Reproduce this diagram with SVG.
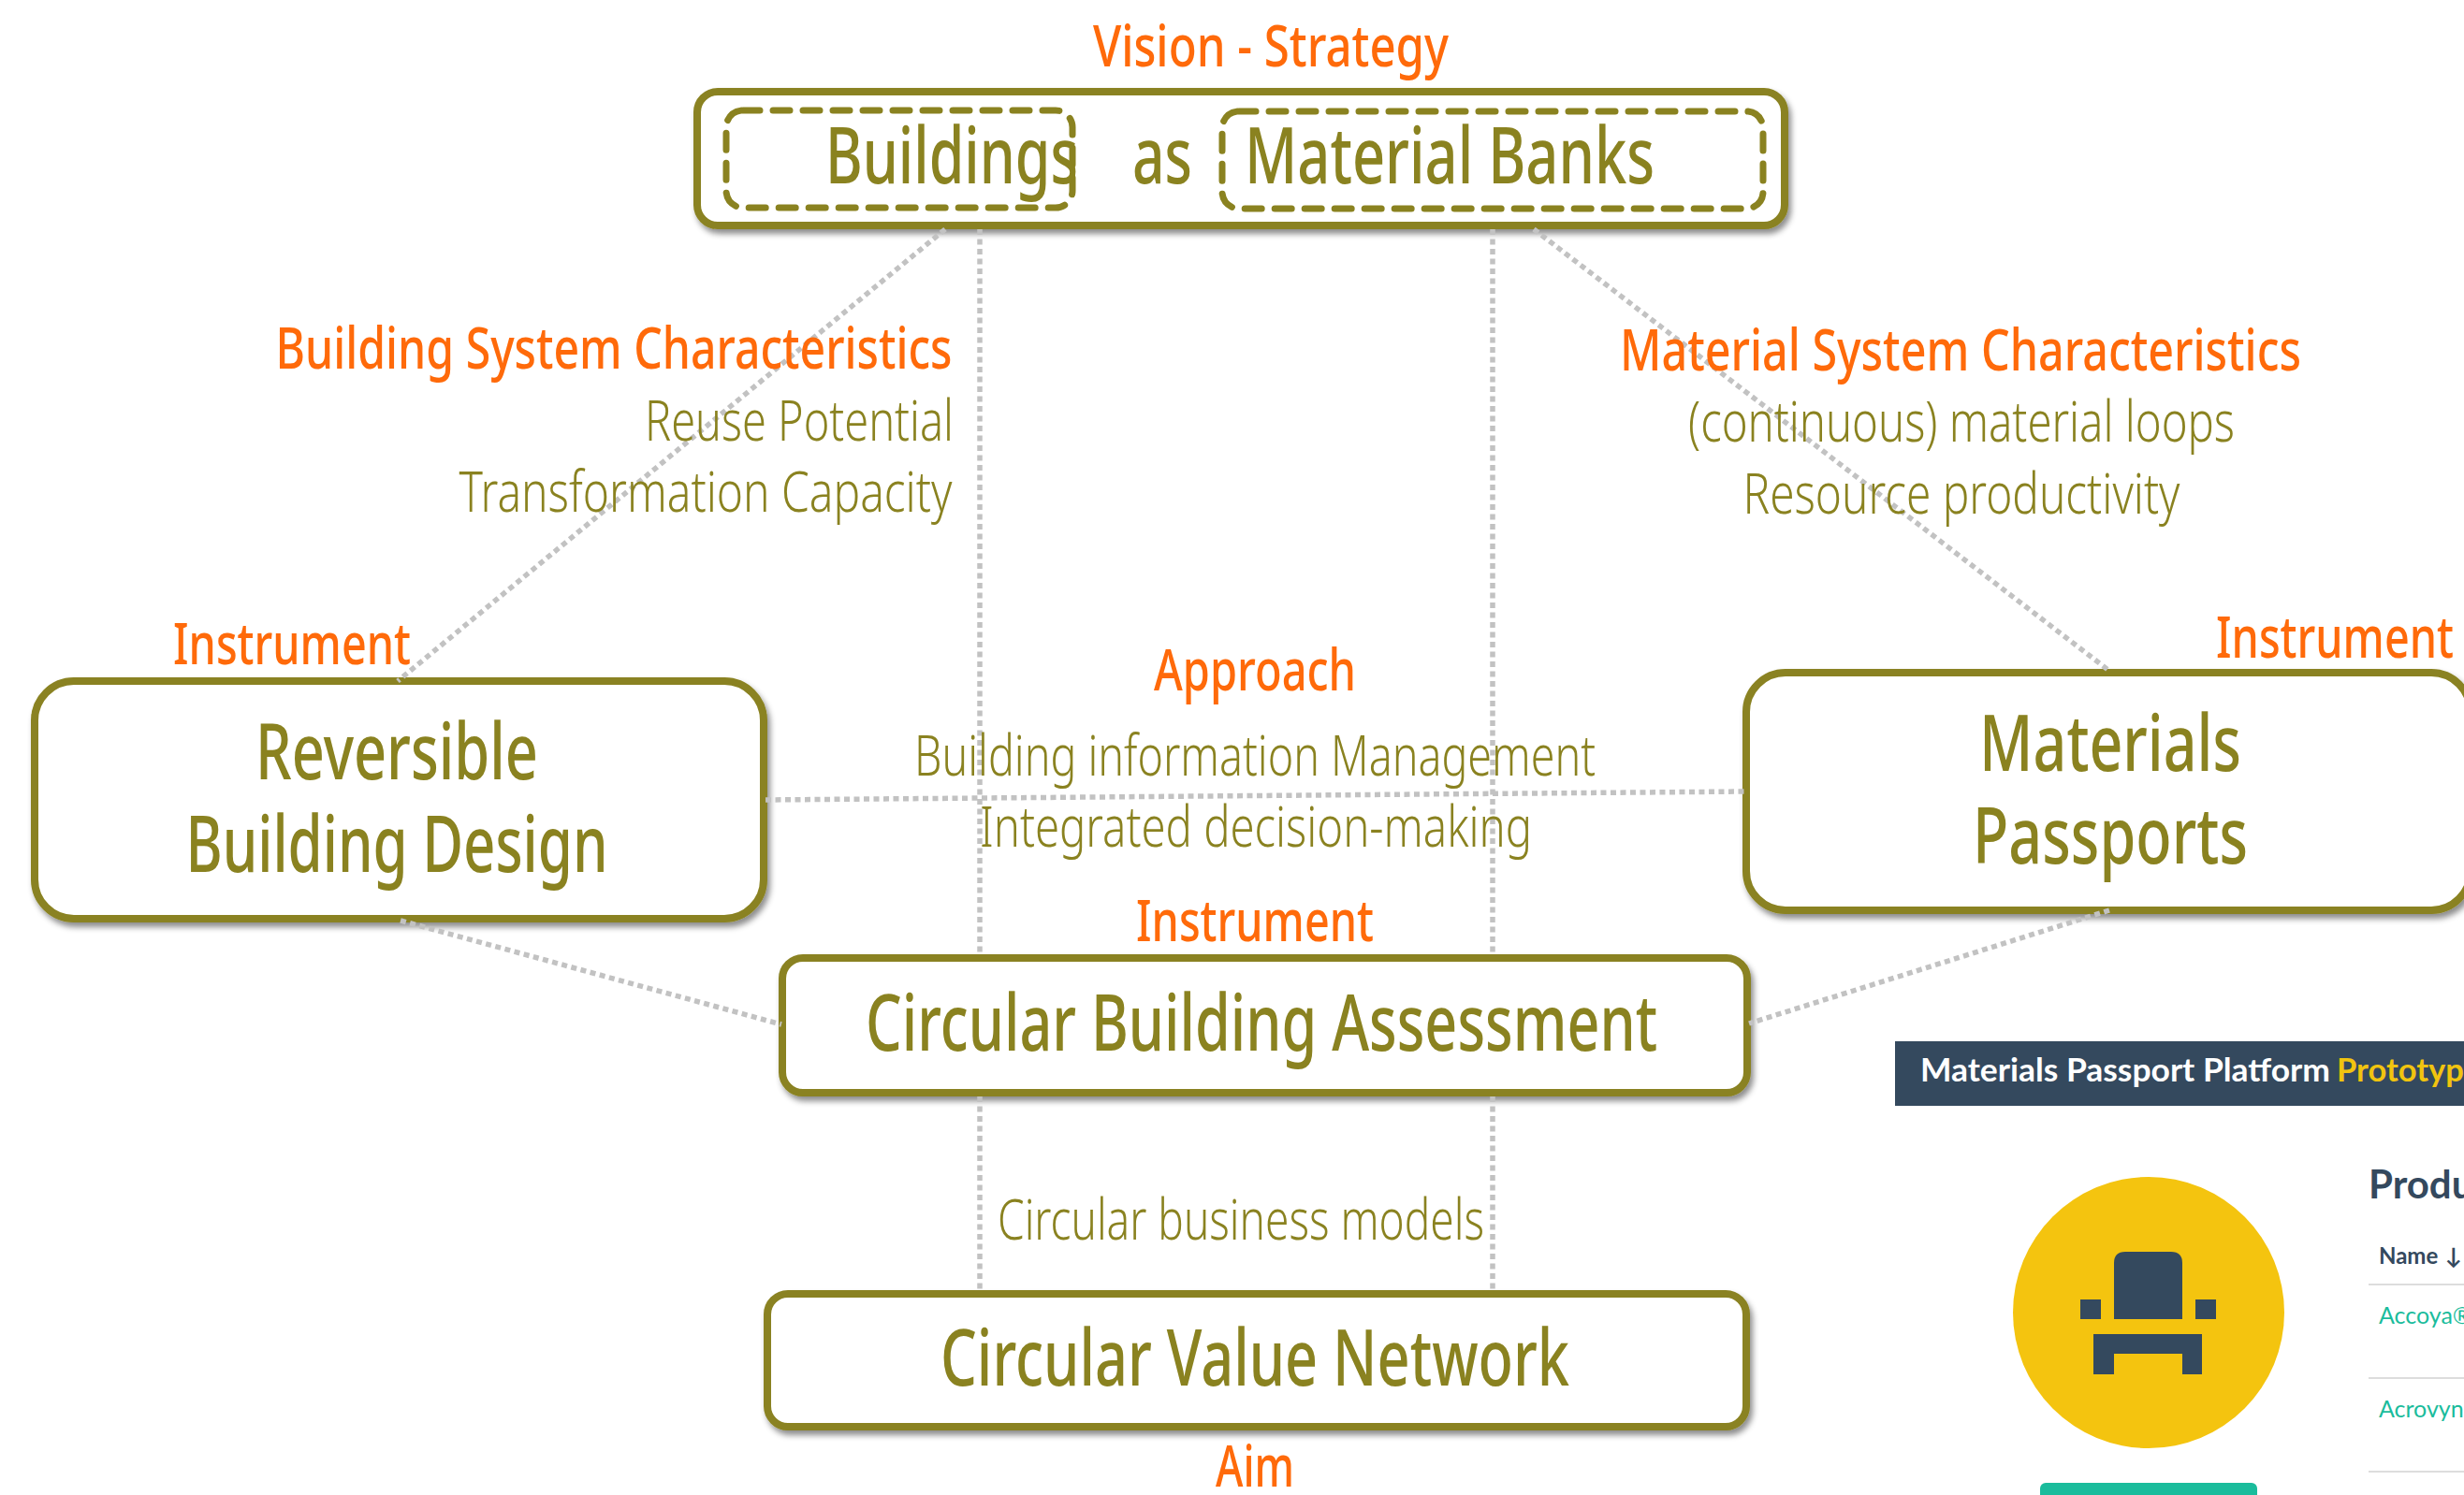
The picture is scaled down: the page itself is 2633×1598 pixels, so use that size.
<svg xmlns="http://www.w3.org/2000/svg" width="2633" height="1598" viewBox="0 0 2633 1598">
<style>
text{font-family:"Noto Sans","Open Sans","Liberation Sans",sans-serif;text-anchor:middle}
.o{fill:#ff6a0a;font-size:62px;font-weight:500}
.n{fill:#8a8220;font-size:84px;font-weight:500}
.s{fill:#8a8220;font-size:60px;font-weight:300}
.box{fill:#fff;stroke:#8a8220;stroke-width:8;filter:url(#sh)}
.d{fill:none;stroke:#8a8220;stroke-width:7;stroke-dasharray:18 14;stroke-linecap:round}
.c{stroke:#c2c2c2;stroke-width:5.5;stroke-dasharray:6 4.5;fill:none}
.l{font-family:Lato,"Liberation Sans",sans-serif;text-anchor:start}
</style>
<defs><filter id="sh" x="-5%" y="-10%" width="110%" height="125%"><feDropShadow dx="3" dy="5" stdDeviation="3" flood-color="#000" flood-opacity=".45"/></filter></defs>
<g id="screenshot">
<rect x="2025" y="1113" width="608" height="69" fill="#34495e"/>
<text class="l" x="2052" y="1156" font-size="35" font-weight="700" fill="#fff" textLength="438" lengthAdjust="spacingAndGlyphs">Materials Passport Platform</text>
<text class="l" x="2497" y="1156" font-size="35" font-weight="700" fill="#f1c40f" textLength="136" lengthAdjust="spacingAndGlyphs">Prototyp</text>
<circle cx="2296" cy="1403" r="145" fill="#f4c40f"/>
<path fill="#34495e" d="M2259 1410V1350q0-12 12-12h49q12 0 12 12v60zM2223 1389h22v21h-22zM2346 1389h22v21h-22zM2237 1426h116v43h-21v-22h-73v22h-22z"/>
<rect x="2180" y="1585" width="232" height="30" rx="6" fill="#1abc9c"/>
<text class="l" x="2531" y="1281" font-size="42" font-weight="700" fill="#34495e">Produ</text>
<text class="l" x="2542" y="1351" font-size="24" font-weight="700" fill="#34495e">Name <tspan dx="2">↓</tspan></text>
<path stroke="#ddd" stroke-width="2" d="M2531 1373H2633M2531 1473H2633M2531 1573H2633"/>
<text class="l" x="2542" y="1415" font-size="25" fill="#1abc9c">Accoya®</text>
<text class="l" x="2542" y="1515" font-size="25" fill="#1abc9c">Acrovyn</text>
</g>
<g id="node-vision">
<rect class="box" x="745" y="98" width="1162" height="143" rx="22"/>
<rect class="d" x="776" y="118" width="370" height="104" rx="18"/>
<rect class="d" x="1306" y="119" width="578" height="104" rx="18"/>
<text class="n" x="1017" y="196" textLength="270" lengthAdjust="spacingAndGlyphs">Buildings</text>
<text class="n" x="1242" y="196" textLength="64" lengthAdjust="spacingAndGlyphs">as</text>
<text class="n" x="1549" y="196" textLength="438" lengthAdjust="spacingAndGlyphs">Material Banks</text>
</g>
<g id="node-rbd">
<rect class="box" x="37" y="728" width="779" height="254" rx="42"/>
<text class="n" x="424" y="833" textLength="302" lengthAdjust="spacingAndGlyphs">Reversible</text>
<text class="n" x="424" y="932" textLength="451" lengthAdjust="spacingAndGlyphs">Building Design</text>
</g>
<g id="node-mp">
<rect class="box" x="1866" y="719" width="774" height="254" rx="42"/>
<text class="n" x="2255" y="824" textLength="280" lengthAdjust="spacingAndGlyphs">Materials</text>
<text class="n" x="2255" y="923" textLength="294" lengthAdjust="spacingAndGlyphs">Passports</text>
</g>
<g id="node-cba">
<rect class="box" x="836" y="1024" width="1031" height="144" rx="22"/>
<text class="n" x="1348" y="1123" textLength="846" lengthAdjust="spacingAndGlyphs">Circular Building Assessment</text>
</g>
<g id="node-cvn">
<rect class="box" x="820" y="1383" width="1046" height="142" rx="22"/>
<text class="n" x="1341" y="1481" textLength="672" lengthAdjust="spacingAndGlyphs">Circular Value Network</text>
</g>
<g id="connectors">
<path class="c" d="M1010 245L425 728M1047 245V1020M1595 245V1020M1047 1172V1382M1595 1172V1382M1639 245L2254 717M818 855L1866 846M428 984L835 1095M2254 973L1869 1094"/>
</g>
<g id="labels">
<text class="o" x="1358" y="71" textLength="380" lengthAdjust="spacingAndGlyphs">Vision - Strategy</text>
<text class="o" x="656" y="394" textLength="723" lengthAdjust="spacingAndGlyphs">Building System Characteristics</text>
<text class="s" x="854" y="471" textLength="330" lengthAdjust="spacingAndGlyphs">Reuse Potential</text>
<text class="s" x="754" y="547" textLength="527" lengthAdjust="spacingAndGlyphs">Transformation Capacity</text>
<text class="o" x="2095" y="396" textLength="728" lengthAdjust="spacingAndGlyphs">Material System Characteristics</text>
<text class="s" x="2096" y="472" textLength="584" lengthAdjust="spacingAndGlyphs">(continuous) material loops</text>
<text class="s" x="2096" y="549" textLength="467" lengthAdjust="spacingAndGlyphs">Resource productivity</text>
<text class="o" x="312" y="710" textLength="254" lengthAdjust="spacingAndGlyphs">Instrument</text>
<text class="o" x="2495" y="703" textLength="254" lengthAdjust="spacingAndGlyphs">Instrument</text>
<text class="o" x="1341" y="738" textLength="216" lengthAdjust="spacingAndGlyphs">Approach</text>
<text class="s" x="1341" y="829" textLength="728" lengthAdjust="spacingAndGlyphs">Building information Management</text>
<text class="s" x="1342" y="905" textLength="590" lengthAdjust="spacingAndGlyphs">Integrated decision-making</text>
<text class="o" x="1341" y="1006" textLength="254" lengthAdjust="spacingAndGlyphs">Instrument</text>
<text class="s" x="1326" y="1325" textLength="520" lengthAdjust="spacingAndGlyphs">Circular business models</text>
<text class="o" x="1341" y="1589" textLength="84" lengthAdjust="spacingAndGlyphs">Aim</text>
</g>
</svg>
